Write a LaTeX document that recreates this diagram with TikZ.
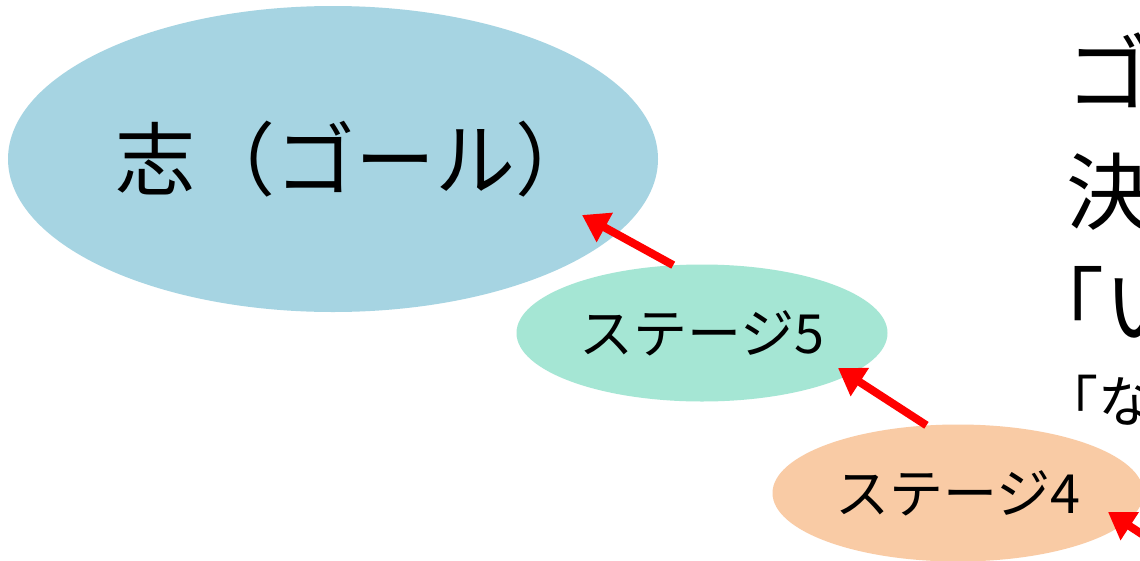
\documentclass[tikz,border=0pt]{standalone}
\usepackage{fontspec}
\newfontfamily\jpfont{Noto Sans CJK JP}
\usetikzlibrary{shapes.geometric,arrows.meta,calc}
\definecolor{goalblue}{HTML}{A6D4E2}
\definecolor{stagegreen}{HTML}{A5E6D4}
\definecolor{stageorange}{HTML}{F9CBA5}
\tikzset{
  bubble/.style={ellipse, draw=none, inner sep=0pt, text=black},
  jptext/.style={font=\jpfont, inner sep=0pt, anchor=west, text=black},
  uparrow/.style={draw=red, line width=8pt,
    -{Triangle[length=26pt,width=32pt]}, shorten >=0pt},
}
\begin{document}
\begin{tikzpicture}[x=1pt,y=-1pt]
\useasboundingbox (0,0) rectangle (1140,560);
\clip (0,0) rectangle (1140,560);
\fill[white] (0,0) rectangle (1140,560);
% ellipses
\node[bubble, fill=goalblue, minimum width=650pt, minimum height=306pt] (goal) at (333,159) {};
\node[inner sep=0pt, font=\jpfont\fontsize{80}{88}\selectfont] (goallabel)
  at ($(goal.center)+(22,0)$) {志（ゴール）};
\node[bubble, fill=stagegreen, minimum width=371pt, minimum height=137pt,
  font=\jpfont\fontsize{54}{62}\selectfont] (s5) at (702,333) {ステージ5};
\node[bubble, fill=stageorange, minimum width=371pt, minimum height=137pt,
  font=\jpfont\fontsize{54}{62}\selectfont] (s4) at (958,493) {ステージ4};
% right-hand text (cropped at picture edge)
\node[jptext, font=\jpfont\fontsize{84}{92}\selectfont] (t1) at (1066,70) {ゴ};
\node[jptext, font=\jpfont\fontsize{84}{92}\selectfont] (t2) at (1066,192) {決};
\node[jptext, font=\jpfont\fontsize{84}{92}\selectfont] (t3) at (1020,302) {「い};
\node[jptext, font=\jpfont\fontsize{56}{64}\selectfont] (t4) at (1042,400) {「な};
% arrow end points
\coordinate (g5) at ($(goal.center)+(249,56)$);
\coordinate (g4) at ($(s5.center)+(136,35)$);
\coordinate (g3) at ($(s4.center)+(150,19)$);
\coordinate (s3) at (1200,572);
% arrows
\draw[uparrow] (s5.113) -- (g5);
\draw[uparrow] (s4.115) -- (g4);
\draw[uparrow] (s3) -- (g3);
\end{tikzpicture}
\end{document}
